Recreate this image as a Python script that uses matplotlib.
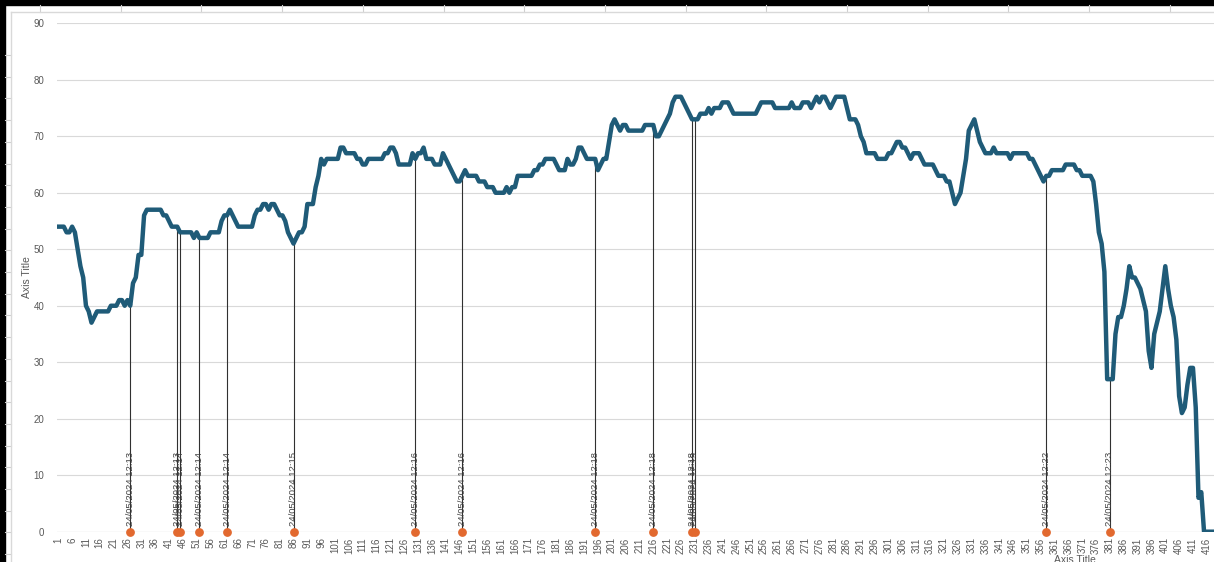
import matplotlib.pyplot as plt
from matplotlib.lines import Line2D
from matplotlib.patches import Rectangle

# sensor reading per sample (category 1..418)
values = [
    54, 54, 54, 53, 53, 54, 53, 50, 47, 45, 40, 39, 37, 38, 39, 39, 39, 39, 39, 40,
    40, 40, 41, 41, 40, 41, 40, 44, 45, 49, 49, 56, 57, 57, 57, 57, 57, 57, 56, 56,
    55, 54, 54, 54, 53, 53, 53, 53, 53, 52, 53, 52, 52, 52, 52, 53, 53, 53, 53, 55,
    56, 56, 57, 56, 55, 54, 54, 54, 54, 54, 54, 56, 57, 57, 58, 58, 57, 58, 58, 57,
    56, 56, 55, 53, 52, 51, 52, 53, 53, 54, 58, 58, 58, 61, 63, 66, 65, 66, 66, 66,
    66, 66, 68, 68, 67, 67, 67, 67, 66, 66, 65, 65, 66, 66, 66, 66, 66, 66, 67, 67,
    68, 68, 67, 65, 65, 65, 65, 65, 67, 66, 67, 67, 68, 66, 66, 66, 65, 65, 65, 67,
    66, 65, 64, 63, 62, 62, 63, 64, 63, 63, 63, 63, 62, 62, 62, 61, 61, 61, 60, 60,
    60, 60, 61, 60, 61, 61, 63, 63, 63, 63, 63, 63, 64, 64, 65, 65, 66, 66, 66, 66,
    65, 64, 64, 64, 66, 65, 65, 66, 68, 68, 67, 66, 66, 66, 66, 64, 65, 66, 66, 69,
    72, 73, 72, 71, 72, 72, 71, 71, 71, 71, 71, 71, 72, 72, 72, 72, 70, 70, 71, 72,
    73, 74, 76, 77, 77, 77, 76, 75, 74, 73, 73, 73, 74, 74, 74, 75, 74, 75, 75, 75,
    76, 76, 76, 75, 74, 74, 74, 74, 74, 74, 74, 74, 74, 75, 76, 76, 76, 76, 76, 75,
    75, 75, 75, 75, 75, 76, 75, 75, 75, 76, 76, 76, 75, 76, 77, 76, 77, 77, 76, 75,
    76, 77, 77, 77, 77, 75, 73, 73, 73, 72, 70, 69, 67, 67, 67, 67, 66, 66, 66, 66,
    67, 67, 68, 69, 69, 68, 68, 67, 66, 67, 67, 67, 66, 65, 65, 65, 65, 64, 63, 63,
    63, 62, 62, 60, 58, 59, 60, 63, 66, 71, 72, 73, 71, 69, 68, 67, 67, 67, 68, 67,
    67, 67, 67, 67, 66, 67, 67, 67, 67, 67, 67, 66, 66, 65, 64, 63, 62, 63, 63, 64,
    64, 64, 64, 64, 65, 65, 65, 65, 64, 64, 63, 63, 63, 63, 62, 58, 53, 51, 46, 27,
    27, 27, 35, 38, 38, 40, 43, 47, 45, 45, 44, 43, 41, 39, 32, 29, 35, 37, 39, 43,
    47, 43, 40, 38, 34, 24, 21, 22, 26, 29, 29, 22, 6, 7, 0, 0, 0, 0,
]
categories = list(range(1, len(values) + 1))

# event markers (category index) and their labels
event_idx = [27, 44, 45, 52, 62, 86, 130, 147, 195, 216, 230, 231, 358, 381]
event_labels = [
    "24/05/2024 12:13", "24/05/2024 12:13", "24/05/2024 12:14", "24/05/2024 12:14",
    "24/05/2024 12:14", "24/05/2024 12:15", "24/05/2024 12:16", "24/05/2024 12:16",
    "24/05/2024 12:18", "24/05/2024 12:18", "24/05/2024 12:18", "24/05/2024 12:19",
    "24/05/2024 12:22", "24/05/2024 12:23",
]

W, H = 1214, 562
fig = plt.figure(figsize=(W / 100, H / 100), dpi=100)
fig.patch.set_facecolor("white")
plt.rcParams["font.family"] = ["Liberation Sans", "DejaVu Sans"]

# spreadsheet background bits around the chart
fig.patches.append(Rectangle((0, 1 - 5 / H), 1, 5 / H, transform=fig.transFigure,
                             color="black", zorder=0))
fig.patches.append(Rectangle((0, 0), 5 / W, 1, transform=fig.transFigure,
                             color="black", zorder=0))
for k in range(16):
    x = (40 + k * 80.7) / W
    fig.lines.append(Line2D([x, x], [1 - 12 / H, 1 - 5 / H], transform=fig.transFigure,
                            color="#d0d0d0", lw=0.8))
for k in range(27):
    y = 1 - (55 + k * 21.7) / H
    fig.lines.append(Line2D([5 / W, 11 / W], [y, y], transform=fig.transFigure,
                            color="#d0d0d0", lw=0.8))
fig.lines.append(Line2D([11 / W, 11 / W], [0, 1 - 12 / H], transform=fig.transFigure,
                        color="#d9d9d9", lw=1))
fig.lines.append(Line2D([11 / W, 1], [1 - 12 / H, 1 - 12 / H], transform=fig.transFigure,
                        color="#d9d9d9", lw=1))

ax = fig.add_axes([56.9 / W, (H - 531.7) / H, 1 - 56.9 / W, (531.7 - 23.3) / H])
ax.set_facecolor("none")

# vertical drop lines from axis to curve at events
for i in event_idx:
    ax.vlines(i, 0, values[i - 1], color="#303030", lw=0.8, zorder=2)

ax.plot(categories, values, color="#1f5b78", lw=3.2, solid_joinstyle="round", zorder=3)

ax.scatter(event_idx, [0] * len(event_idx), s=28, color="#e2692f", zorder=4,
           clip_on=False)
for i, lab in zip(event_idx, event_labels):
    ax.annotate(lab, (i, 0), xytext=(0, 4), textcoords="offset points",
                rotation=90, ha="center", va="bottom", fontsize=6.8,
                color="#404040", zorder=5)

ax.set_xlim(0.5, 418.6)
ax.set_ylim(0, 90)
ax.set_yticks(range(0, 91, 10))
ax.set_xticks(categories[::5])
ax.set_xticklabels([str(c) for c in categories[::5]], rotation=90)
ax.tick_params(axis="both", length=0, labelsize=7, labelcolor="#595959")
ax.tick_params(axis="x", pad=4)
ax.tick_params(axis="y", pad=9)
ax.grid(axis="y", color="#d9d9d9", lw=0.8)
ax.set_axisbelow(True)
for s in ax.spines.values():
    s.set_visible(False)
ax.axhline(0, color="#d0d0d0", lw=0.8, zorder=1)

ax.set_ylabel("Axis Title", fontsize=7.5, color="#595959", labelpad=1)
fig.text(1075 / W, (H - 555) / H, "Axis Title", fontsize=7.5, color="#595959",
         ha="center", va="top")

fig.savefig("out.png", dpi=100)
